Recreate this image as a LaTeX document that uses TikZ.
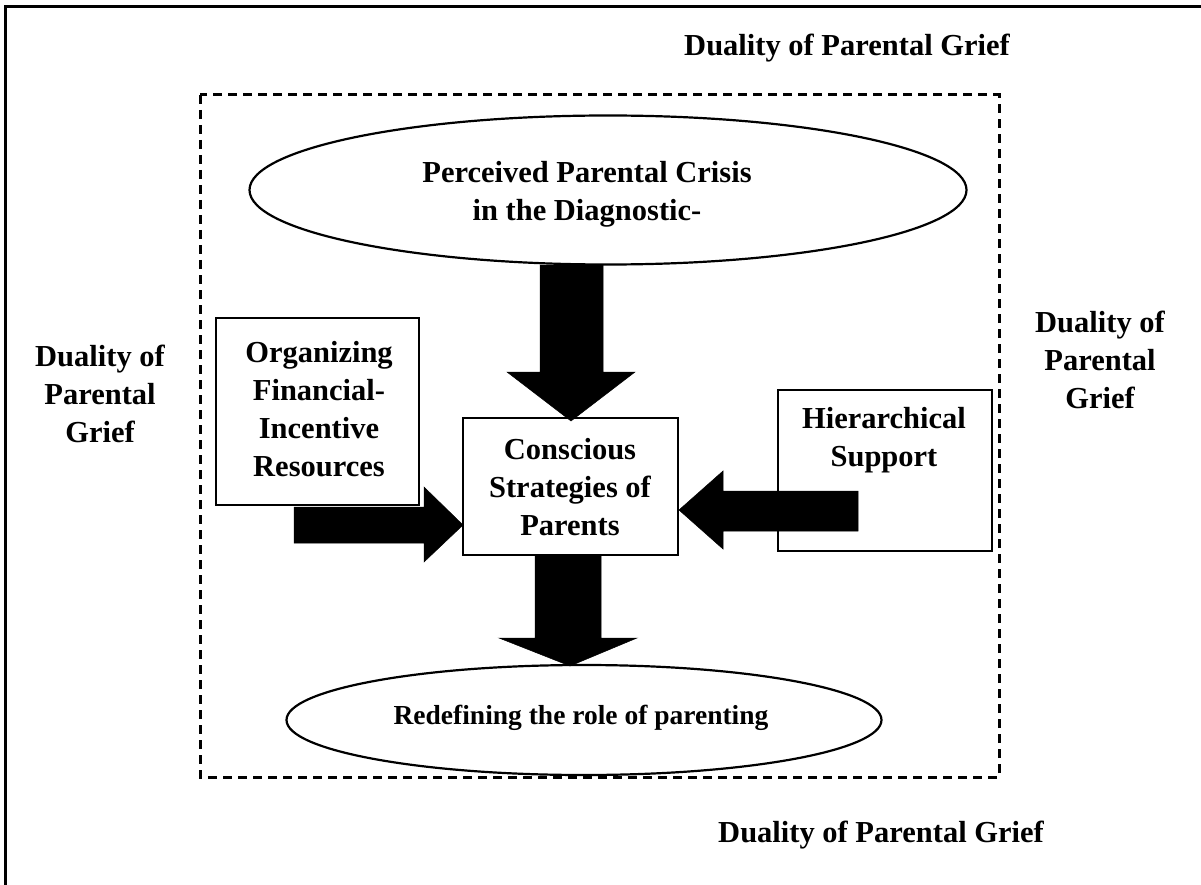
\documentclass[tikz,border=0pt]{standalone}
\usepackage{fontspec}
\setmainfont{Liberation Serif}
\usetikzlibrary{shapes.geometric}
\tikzset{
  lbl/.style={font=\fontsize{30.5}{38}\selectfont\bfseries, align=center, inner sep=0pt},
  boxnode/.style={draw, line width=2.2pt, inner sep=0pt},
  ovalnode/.style={draw, ellipse, line width=2.2pt, inner sep=0pt},
  blockarrow/.style={fill=black, draw=black, line width=0.5pt},
}
\begin{document}
\begin{tikzpicture}[x=1pt,y=-1pt]
\useasboundingbox (0,0) rectangle (1201,885);
% outer frame (only left and top visible)
\draw[line width=3pt] (5.5,890) -- (5.5,6.5) -- (1210,6.5);
% dashed frame
\draw[line width=3pt, dash pattern=on 9pt off 6pt] (200,95) rectangle (999,777);

% shapes
\node[ovalnode, minimum width=717pt, minimum height=149pt] (crisis) at (608,190) {};
\node[ovalnode, minimum width=595pt, minimum height=110pt] (redef) at (584,720) {};
\node[boxnode, minimum width=215pt, minimum height=137pt] (conscious) at (570.5,486.5) {};
\node[boxnode, minimum width=203pt, minimum height=187pt] (organizing) at (317.5,411.5) {};
\node[boxnode, minimum width=214pt, minimum height=161pt] (hier) at (885,470.5) {};

% block arrows
\draw[blockarrow] (540,265) -- (603,265) -- (603,372) -- (635,372) -- (571,421) -- (507,372) -- (540,372) -- cycle;
\draw[blockarrow] (294,507) -- (424,507) -- (424,487) -- (463,525) -- (424,562) -- (424,543) -- (294,543) -- cycle;
\draw[blockarrow] (858,491) -- (723,491) -- (723,471) -- (679,510) -- (723,549) -- (723,531) -- (858,531) -- cycle;
\draw[blockarrow] (535,556) -- (601,556) -- (601,638) -- (637,638) -- (570,666) -- (499,638) -- (535,638) -- cycle;

% texts
\node[lbl] (crisistext) at (587,194) {Perceived Parental Crisis\\in the Diagnostic-};
\node[lbl] (redeftext) at (581,718) {\fontsize{27.5}{34}\selectfont Redefining the role of parenting};
\node[lbl] (conscioustext) at (570,487) {Conscious\\Strategies of\\Parents};
\node[lbl] (orgtext) at (319,409) {Organizing\\Financial-\\Incentive\\Resources};
\node[lbl] (hiertext) at (884,440) {Hierarchical\\Support};

\node[lbl] (dtop) at (847,48) {Duality of Parental Grief};
\node[lbl] (dbottom) at (881,835) {Duality of Parental Grief};
\node[lbl] (dleft) at (100,394) {Duality of\\Parental\\Grief};
\node[lbl] (dright) at (1100,360) {Duality of\\Parental\\Grief};
\end{tikzpicture}
\end{document}
